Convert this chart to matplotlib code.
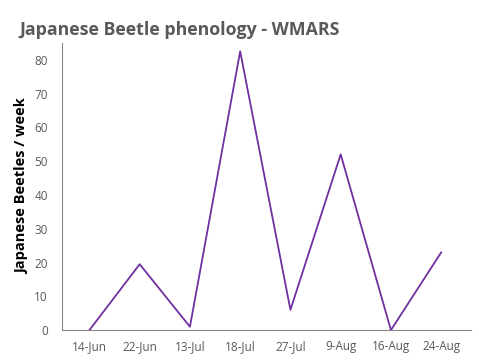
#!/usr/bin/env python

"""
Japanese Beetle phenology at WMARS - weekly trap counts
"""

import matplotlib
matplotlib.use("Agg")
import matplotlib.pyplot as plt

dates = ["14-Jun", "22-Jun", "13-Jul", "18-Jul", "27-Jul", "9-Aug", "16-Aug", "24-Aug"]
beetles = [0, 19.5, 1, 82.5, 6, 52, 0, 23]
yticks = [0, 10, 20, 30, 40, 50, 60, 70, 80]


def main():

    plt.rcParams["font.family"] = ["Open Sans", "DejaVu Sans"]
    grey = "#595959"

    fig = plt.figure(figsize=(4.79, 3.6), dpi=100)
    ax = fig.add_axes([0.129, 0.083, 0.855, 0.798])

    x = range(len(dates))
    ax.plot(x, beetles, color="#7030A0", lw=1.3)

    ax.set_xlim(-0.55, len(dates) - 0.4)
    ax.set_ylim(0, 85)
    ax.set_yticks(yticks)
    ax.set_xticks(list(x))
    ax.set_xticklabels(dates)

    for s in ["top", "right"]:
        ax.spines[s].set_visible(False)
    for s in ["left", "bottom"]:
        ax.spines[s].set_color("#868686")
        ax.spines[s].set_linewidth(0.8)
    ax.tick_params(axis="x", length=0, labelsize=8.5, labelcolor=grey, pad=7)
    ax.tick_params(axis="y", length=0, labelsize=8.5, labelcolor=grey, pad=10)

    ax.set_ylabel("Japanese Beetles / week", fontsize=10.5, fontweight="bold",
                  color="black", labelpad=4)
    fig.text(0.04, 0.903, "Japanese Beetle phenology - WMARS", fontsize=12.8,
             fontweight="bold", color=grey)

    fig.savefig("out.png", dpi=100)


if __name__ == "__main__":

    main()
